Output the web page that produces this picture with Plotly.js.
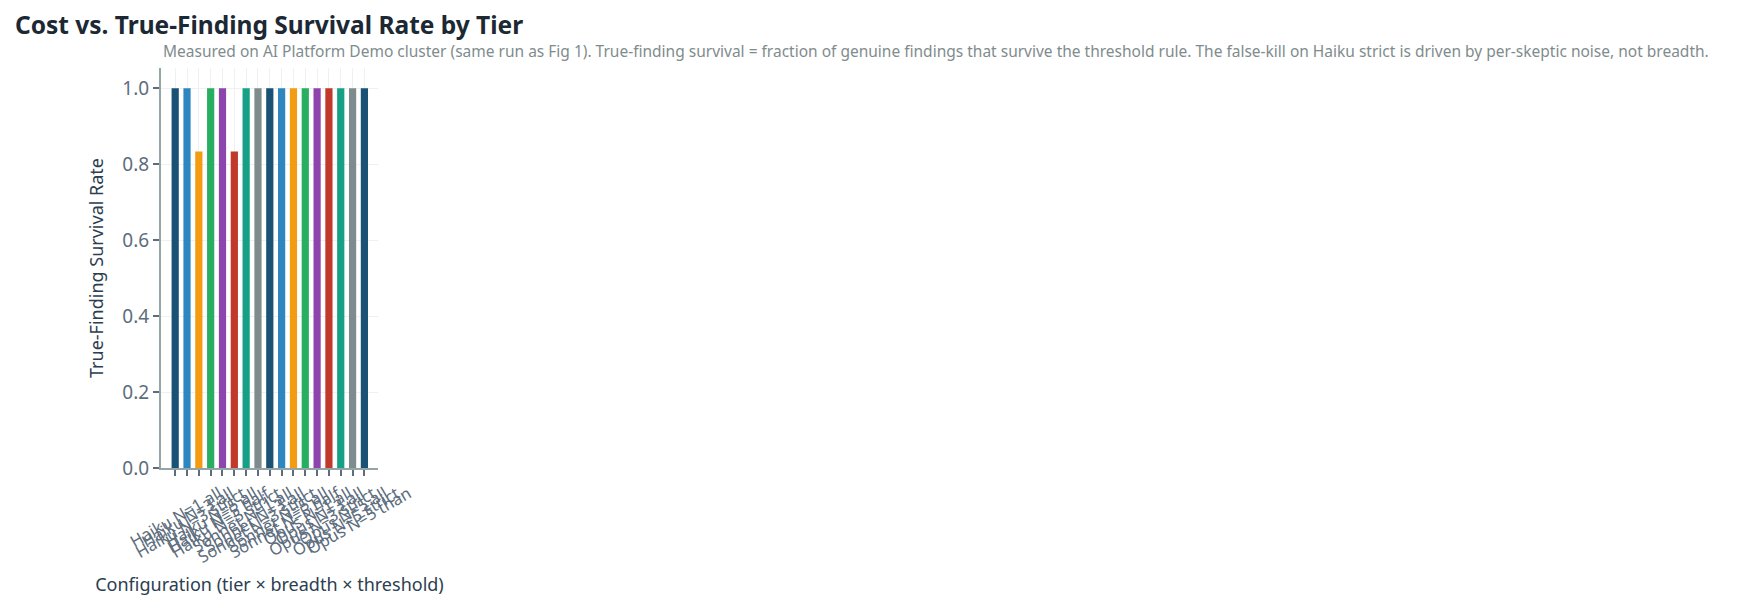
<!DOCTYPE html>
<html>
<head>
<meta charset="utf-8">
<script src="https://cdn.plot.ly/plotly-3.0.1.min.js"></script>
<style>
  html, body { margin: 0; padding: 0; background: #ffffff; }
  #chart { width: 1756px; height: 615px; }
</style>
</head>
<body>
<div id="chart"></div>
<script>
// Configurations (tier x breadth x threshold)
const configs = [
    'Haiku N=1 all', 'Haiku N=3 all', 'Haiku N=3 strict', 'Haiku N=5 all',
    'Haiku N=5 half', 'Haiku N=5 strict',
    'Sonnet N=1 all', 'Sonnet N=3 all', 'Sonnet N=3 strict', 'Sonnet N=5 all',
    'Sonnet N=5 half',
    'Opus N=1 all', 'Opus N=3 all', 'Opus N=3 strict', 'Opus N=5 all',
    'Opus N=5 strict', 'Opus N=5 than'
];

// True-finding survival rate per configuration
const survival = [1.0, 1.0, 0.833, 1.0, 1.0, 0.833, 1.0, 1.0, 1.0, 1.0, 1.0, 1.0, 1.0, 1.0, 1.0, 1.0, 1.0];

const palette = ['#1a5276', '#2e86c1', '#f39c12', '#27ae60', '#8e44ad', '#c0392b', '#16a085', '#7f8c8d'];

const FONT = '"Noto Sans", sans-serif';

const trace = {
    x: configs,
    y: survival,
    type: 'bar',
    marker: { color: configs.map((_, i) => palette[i % palette.length]) },
    hovertemplate: '<b>%{x}</b><br>Survival: %{y:.3f}<extra></extra>'
};

const layout = {
    width: 1756,
    height: 615,
    paper_bgcolor: '#ffffff',
    plot_bgcolor: '#ffffff',
    font: { family: FONT, color: '#2c3e50', size: 16 },
    title: {
        text: '<b>Cost vs. True-Finding Survival Rate by Tier</b>',
        font: { family: FONT, size: 24.5, color: '#1c2833' },
        x: 0.0085, xanchor: 'left', xref: 'container',
        y: 0.959, yanchor: 'middle'
    },
    annotations: [{
        text: 'Measured on AI Platform Demo cluster (same run as Fig 1). True-finding survival = fraction of genuine findings that survive the threshold rule. The false-kill on Haiku strict is driven by per-skeptic noise, not breadth.',
        xref: 'paper', yref: 'paper',
        x: 0, y: 1.0, xanchor: 'left', yanchor: 'middle', yshift: 17,
        showarrow: false,
        font: { family: FONT, size: 15.5, color: '#7f8c8d' }
    }],
    xaxis: {
        title: { text: 'Configuration (tier × breadth × threshold)', font: { size: 18, color: '#2c3e50' }, standoff: 12 },
        range: [-1.2, 17.15],
        tickmode: 'linear',
        tick0: 0,
        dtick: 1,
        tickangle: -30,
        ticklabelshift: 44,
        ticklabelstandoff: 2,
        tickfont: { size: 16.5, color: '#5d6d7e' },
        showline: true, linecolor: '#95a5a6', linewidth: 2,
        ticks: 'outside', ticklen: 6, tickwidth: 1.5, tickcolor: '#5d6d7e',
        showgrid: true, gridcolor: '#eef1f3',
        automargin: false
    },
    yaxis: {
        title: { text: 'True-Finding Survival Rate', font: { size: 18, color: '#2c3e50' }, standoff: 14 },
        range: [0, 1.053],
        dtick: 0.2,
        tickformat: '.1f',
        tickfont: { size: 19, color: '#5d6d7e' },
        showline: true, linecolor: '#95a5a6', linewidth: 2,
        ticks: 'outside', ticklen: 6, tickwidth: 1.5, tickcolor: '#5d6d7e',
        showgrid: true, gridcolor: '#eef1f3',
        zeroline: false,
        automargin: false
    },
    bargap: 0.39,
    showlegend: false,
    margin: { t: 68, b: 147, l: 161, r: 1378 }
};

Plotly.newPlot('chart', [trace], layout, { displayModeBar: false, responsive: false });
</script>
</body>
</html>
